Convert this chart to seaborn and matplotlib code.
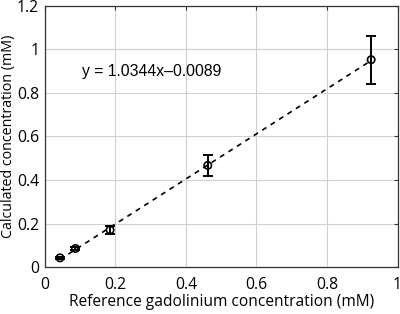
import matplotlib

matplotlib.use("Agg")

import matplotlib.pyplot as plt
import numpy as np
import pandas as pd
import seaborn as sns

# measured data (mM)
ref_conc = [0.043, 0.087, 0.185, 0.462, 0.925]
calc_conc = [0.043, 0.086, 0.171, 0.467, 0.952]
calc_err = [0.005, 0.007, 0.018, 0.050, 0.110]

slope = 1.0344
intercept = -0.0089
fit_label = "y = 1.0344x\u20130.0089"

x_ticks = [0, 0.2, 0.4, 0.6, 0.8, 1]
y_ticks = [0, 0.2, 0.4, 0.6, 0.8, 1, 1.2]


def tick_fmt(v):
    return "0" if v == 0 else ("1" if v == 1 else f"{v:g}")


def main() -> None:
    sns.set_style("whitegrid")
    plt.rcParams["font.family"] = ["Open Sans", "DejaVu Sans"]

    fig = plt.figure(figsize=(4.0, 3.14), dpi=100)
    ax = fig.add_axes([0.112, 0.149, 0.882, 0.833])

    df = pd.DataFrame({"ref": ref_conc, "calc": calc_conc, "err": calc_err})
    fit_x = np.array([ref_conc[0], ref_conc[-1]])
    fit = pd.DataFrame({"ref": fit_x, "calc": slope * fit_x + intercept})

    sns.lineplot(data=fit, x="ref", y="calc", ax=ax, color="black",
                 linestyle=(0, (3, 3)), linewidth=1.2)
    ax.errorbar(df["ref"], df["calc"], yerr=df["err"], fmt="none",
                ecolor="black", elinewidth=1.4, capsize=3.5, capthick=1.4)
    sns.scatterplot(data=df, x="ref", y="calc", ax=ax, marker="o",
                    facecolor="none", edgecolor="black", linewidth=1.2, s=28)

    ax.text(0.105, 0.9, fit_label, fontsize=11.3, family=["Liberation Sans", "DejaVu Sans"],
            va="center", ha="left", color="black")

    ax.set_xlim(0, 1)
    ax.set_ylim(0, 1.2)
    ax.set_xticks(x_ticks)
    ax.set_yticks(y_ticks)
    ax.set_xticklabels([tick_fmt(v) for v in x_ticks])
    ax.set_yticklabels([tick_fmt(v) for v in y_ticks])
    ax.set_xlabel("Reference gadolinium concentration (mM)", fontsize=11.2,
                  labelpad=1, color="black")
    ax.set_ylabel("Calculated concentration (mM)", fontsize=10.3, labelpad=1,
                  color="black")
    ax.tick_params(labelsize=11.3, labelcolor="black", direction="in", length=3,
                   width=0.8, color="#333333", top=True, right=True)
    ax.tick_params(axis="x", pad=7)
    ax.tick_params(axis="y", pad=4)
    ax.grid(True, color="#d0d0d0", linewidth=0.8)
    for sp in ax.spines.values():
        sp.set_color("#333333")
        sp.set_linewidth(0.9)

    fig.savefig("out.png", dpi=100)
    plt.close(fig)


if __name__ == "__main__":
    main()
